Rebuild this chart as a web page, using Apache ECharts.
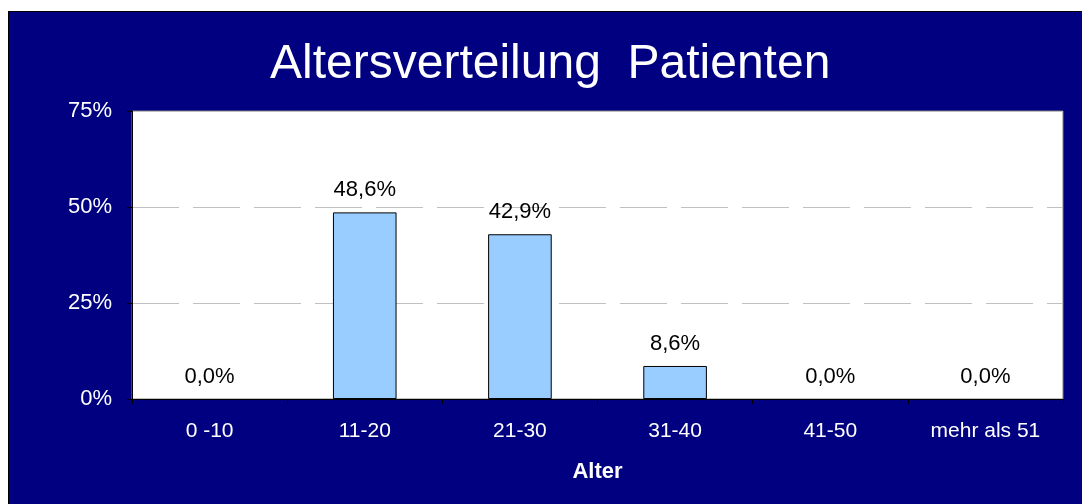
<!DOCTYPE html>
<html><head><meta charset="utf-8">
<script src="https://cdn.jsdelivr.net/npm/echarts@6/dist/echarts.min.js"></script>
<style>
html,body{margin:0;padding:0;background:#fff;}
#bg{position:absolute;left:8px;top:11px;width:1074px;height:493px;background:#000080;border-left:1px solid #000;border-top:1px solid #000;box-sizing:border-box;}
#c{position:absolute;left:0;top:0;width:1082px;height:504px;}
</style></head>
<body>
<div id="bg"></div>
<div id="c"></div>
<script>
const titleText = 'Altersverteilung  Patienten';
const categories = ['0 -10', '11-20', '21-30', '31-40', '41-50', 'mehr als 51'];
const values = [0.0, 48.6, 42.9, 8.6, 0.0, 0.0];
const yTicks = [0, 25, 50, 75];
const xAxisName = 'Alter';

const FONT = '"Liberation Sans", Arial, sans-serif';
const chart = echarts.init(document.getElementById('c'), null, {renderer: 'canvas'});
chart.setOption({
  backgroundColor: 'transparent',
  animation: false,
  title: {
    text: titleText, left: 265, top: 36,
    textStyle: {color: '#fff', fontSize: 48, fontWeight: 'normal', fontFamily: FONT}
  },
  grid: {
    left: 132, right: 19, top: 111, bottom: 105,
    show: true, backgroundColor: '#fff', borderColor: '#808080', borderWidth: 1
  },
  xAxis: {
    type: 'category', data: categories,
    name: xAxisName, nameLocation: 'middle', nameGap: 62,
    nameTextStyle: {color: '#fff', fontSize: 22, fontWeight: 'bold', fontFamily: FONT},
    axisLine: {lineStyle: {color: '#000', width: 1}},
    axisTick: {show: true, length: 5, lineStyle: {color: '#000'}},
    axisLabel: {color: '#fff', fontSize: 21, fontFamily: FONT, margin: 22}
  },
  yAxis: {
    type: 'value', min: yTicks[0], max: yTicks[yTicks.length - 1], interval: 25,
    axisLine: {show: true, lineStyle: {color: '#000', width: 1}},
    axisTick: {show: true, length: 5, lineStyle: {color: '#000'}},
    axisLabel: {color: '#fff', fontSize: 22, fontFamily: FONT, margin: 20, formatter: v => v + '%'},
    splitLine: {show: true, lineStyle: {color: '#c0c0c0', width: 1, type: [47, 14]}}
  },
  series: [{
    type: 'bar',
    data: values.map(v => v === 0 ? {value: v, itemStyle: {borderWidth: 0, color: 'transparent'}} : v),
    barWidth: '41%',
    itemStyle: {color: '#99ccff', borderColor: '#000', borderWidth: 1},
    label: {
      show: true, position: 'top', distance: 11, color: '#000', fontSize: 22, fontFamily: FONT,
      formatter: p => p.value.toFixed(1).replace('.', ',') + '%'
    }
  }]
});
</script>
</body></html>
